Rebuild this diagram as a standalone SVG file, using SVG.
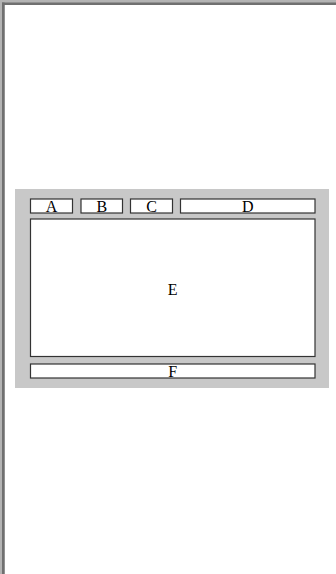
<svg xmlns="http://www.w3.org/2000/svg" width="336" height="574" viewBox="0 0 336 574">
<style>
.box{fill:#fff;stroke:#333;stroke-width:1.2}
.lbl{font-family:"Liberation Serif",serif;font-size:16px;fill:#000;text-anchor:middle}
</style>
<rect width="336" height="574" fill="#fff"/>
<rect x="0" y="0" width="336" height="5" fill="#b4b4b4"/>
<rect x="0" y="0" width="5" height="574" fill="#b4b4b4"/>
<rect x="2" y="2.5" width="334" height="2.5" fill="#707070"/>
<rect x="2" y="2.5" width="2.5" height="572" fill="#707070"/>
<rect x="5" y="5" width="331" height="569" fill="#fff"/>
<rect id="panel" x="15" y="189" width="314" height="199" fill="#c8c8c8"/>
<g id="A"><rect class="box" x="30.5" y="199" width="42" height="14"/><text class="lbl" x="51.5" y="211.5">A</text></g>
<g id="B"><rect class="box" x="81" y="199" width="41.5" height="14"/><text class="lbl" x="101.75" y="211.5">B</text></g>
<g id="C"><rect class="box" x="130.5" y="199" width="42" height="14"/><text class="lbl" x="151.5" y="211.5">C</text></g>
<g id="D"><rect class="box" x="180.5" y="199" width="134.5" height="14"/><text class="lbl" x="247.75" y="211.5">D</text></g>
<g id="E"><rect class="box" x="30.5" y="219" width="284.5" height="137.5"/><text class="lbl" x="172.75" y="294.5">E</text></g>
<g id="F"><rect class="box" x="30.5" y="364" width="284.5" height="14"/><text class="lbl" x="172.75" y="376.5">F</text></g>
<g id="connectors"/>
</svg>
